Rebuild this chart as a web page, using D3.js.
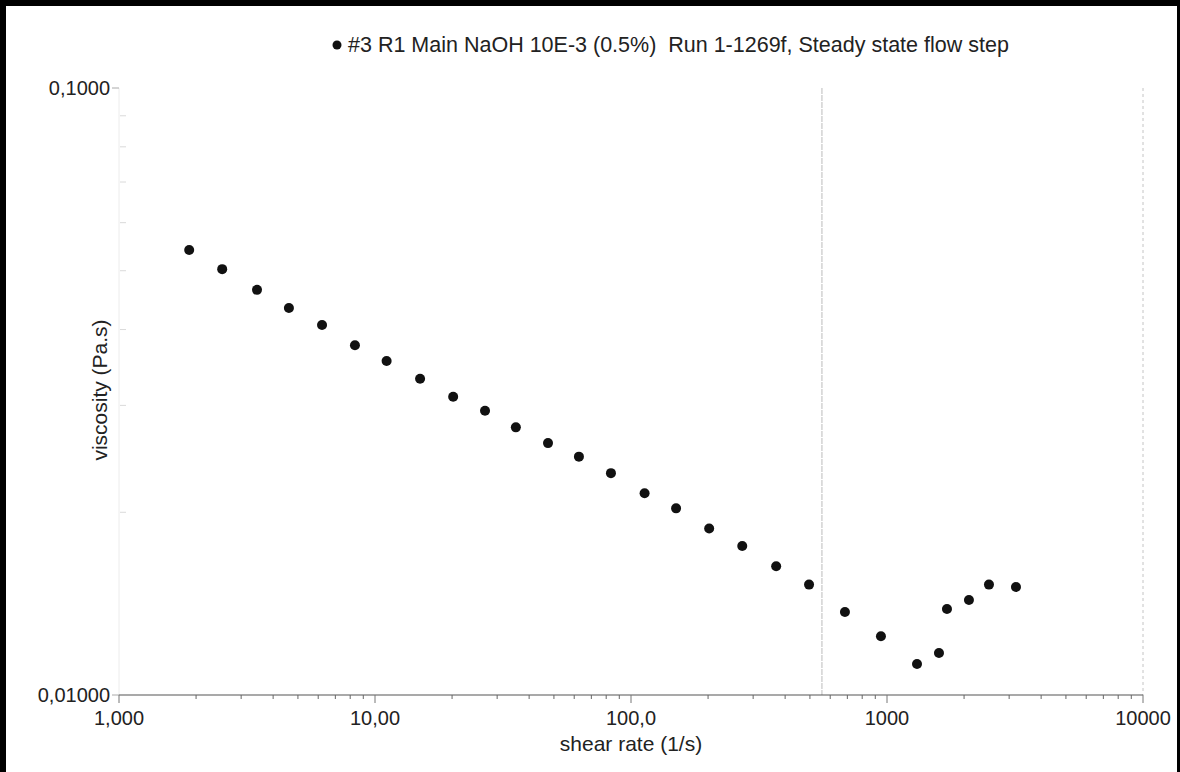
<!DOCTYPE html>
<html>
<head>
<meta charset="utf-8">
<script src="https://cdn.jsdelivr.net/npm/d3@7"></script>
<style>
  body { margin: 0; background: #fff; }
  svg { display: block; font-family: "Liberation Sans", Arial, sans-serif; }
</style>
</head>
<body>
<div id="graph"></div>
<script>
// shear rate (1/s) and viscosity (Pa.s)
var shear_rate = [1.88, 2.53, 3.46, 4.61, 6.21, 8.35, 11.1, 15.0, 20.2, 26.9,
                  35.5, 47.4, 62.6, 83.5, 113, 150, 202, 272, 369, 496,
                  685, 947, 1310, 1596, 1715, 2090, 2502, 3190];
var viscosity = [0.0541, 0.0503, 0.0465, 0.0434, 0.0407, 0.0377, 0.0355, 0.0332, 0.0310, 0.0294,
                 0.0276, 0.0260, 0.0247, 0.0232, 0.0215, 0.0203, 0.0188, 0.0176, 0.0163, 0.0152,
                 0.0137, 0.0125, 0.01125, 0.01173, 0.01386, 0.01434, 0.0152, 0.01506];

var x_ticks = [1, 10, 100, 1000, 10000];
var x_tick_labels = ["1,000", "10,00", "100,0", "1000", "10000"];
var y_ticks = [0.01, 0.1];
var y_tick_labels = ["0,01000", "0,1000"];
var marker_rate = 557;   // the grey vertical line in the plot
var title = "#3 R1 Main NaOH 10E-3 (0.5%)  Run 1-1269f, Steady state flow step";

var W = 1180, H = 772;
var vis = d3.select("#graph").append("svg")
    .attr("width", W).attr("height", H);

vis.append("rect").attr("width", W).attr("height", H).attr("fill", "#fff");

var x = d3.scaleLog().domain([1, 10000]).range([119, 1143]);
var y = d3.scaleLog().domain([0.01, 0.1]).range([695, 88]);

// minor ticks on both log axes
var x_minor = [];
for (var d = 1; d < 10000; d *= 10) {
  for (var k = 2; k < 10; k++) x_minor.push(d * k);
}
var y_minor = [];
for (var k = 2; k < 10; k++) y_minor.push(0.01 * k);

// faint y axis
vis.append("line").attr("x1", 119).attr("x2", 119)
  .attr("y1", y(0.1)).attr("y2", y(0.01))
  .attr("stroke", "#ececec").attr("stroke-width", 1);

vis.selectAll("line.yminor").data(y_minor).enter().append("line")
  .attr("class", "yminor")
  .attr("x1", 120).attr("x2", 126)
  .attr("y1", function(d) { return y(d); }).attr("y2", function(d) { return y(d); })
  .attr("stroke", "#dadada");

vis.selectAll("line.ymajor").data(y_ticks).enter().append("line")
  .attr("class", "ymajor")
  .attr("x1", 112).attr("x2", 119)
  .attr("y1", function(d) { return y(d); }).attr("y2", function(d) { return y(d); })
  .attr("stroke", "#aaa");

vis.selectAll("text.ylab").data(y_ticks).enter().append("text")
  .attr("class", "ylab")
  .attr("x", 110)
  .attr("y", function(d) { return y(d) + 7; })
  .attr("text-anchor", "end")
  .attr("font-size", 20).attr("fill", "#222")
  .text(function(d, i) { return y_tick_labels[i]; });

// vertical grey lines
vis.append("line")
  .attr("x1", x(marker_rate)).attr("x2", x(marker_rate))
  .attr("y1", y(0.1)).attr("y2", y(0.01))
  .attr("stroke", "#bbb").attr("stroke-width", 1)
  .attr("stroke-dasharray", "6,1");
vis.append("line")
  .attr("x1", x(10000)).attr("x2", x(10000))
  .attr("y1", y(0.1)).attr("y2", y(0.01))
  .attr("stroke", "#c4c4c4").attr("stroke-width", 1)
  .attr("stroke-dasharray", "3,3");

// x axis
vis.append("line")
  .attr("x1", x(1)).attr("x2", x(10000))
  .attr("y1", y(0.01)).attr("y2", y(0.01))
  .attr("stroke", "#555").attr("stroke-width", 1.2);

vis.selectAll("line.xminor").data(x_minor).enter().append("line")
  .attr("class", "xminor")
  .attr("x1", function(d) { return x(d); }).attr("x2", function(d) { return x(d); })
  .attr("y1", y(0.01)).attr("y2", y(0.01) + 4)
  .attr("stroke", "#666");

vis.selectAll("line.xmajor").data(x_ticks).enter().append("line")
  .attr("class", "xmajor")
  .attr("x1", function(d) { return x(d); }).attr("x2", function(d) { return x(d); })
  .attr("y1", y(0.01)).attr("y2", y(0.01) + 8)
  .attr("stroke", "#777");

vis.selectAll("text.xlab").data(x_ticks).enter().append("text")
  .attr("class", "xlab")
  .attr("x", function(d) { return x(d); })
  .attr("y", 725)
  .attr("text-anchor", "middle")
  .attr("font-size", 20).attr("fill", "#222")
  .text(function(d, i) { return x_tick_labels[i]; });

// axis titles
vis.append("text")
  .attr("x", 631).attr("y", 751)
  .attr("text-anchor", "middle")
  .attr("font-size", 21).attr("fill", "#222")
  .text("shear rate (1/s)");

vis.append("text")
  .attr("transform", "translate(107,390) rotate(-90)")
  .attr("text-anchor", "middle")
  .attr("font-size", 21).attr("fill", "#222")
  .text("viscosity (Pa.s)");

// legend / title
vis.append("circle").attr("cx", 337).attr("cy", 45).attr("r", 4.5).attr("fill", "#111");
vis.append("text")
  .attr("x", 348).attr("y", 52)
  .attr("font-size", 21.5).attr("fill", "#222")
  .style("white-space", "pre")
  .text(title);

// points
vis.selectAll("circle.nodes")
  .data(shear_rate)
  .enter()
  .append("circle")
  .attr("class", "nodes")
  .attr("cx", function(d) { return x(d); })
  .attr("cy", function(d, i) { return y(viscosity[i]); })
  .attr("r", 5)
  .attr("fill", "#111");

// black scan border
vis.append("rect").attr("x", 0).attr("y", 0).attr("width", W).attr("height", 6).attr("fill", "#000");
vis.append("rect").attr("x", 0).attr("y", 0).attr("width", 6).attr("height", H).attr("fill", "#000");
vis.append("rect").attr("x", W - 3).attr("y", 0).attr("width", 3).attr("height", H).attr("fill", "#000");
</script>
</body>
</html>
